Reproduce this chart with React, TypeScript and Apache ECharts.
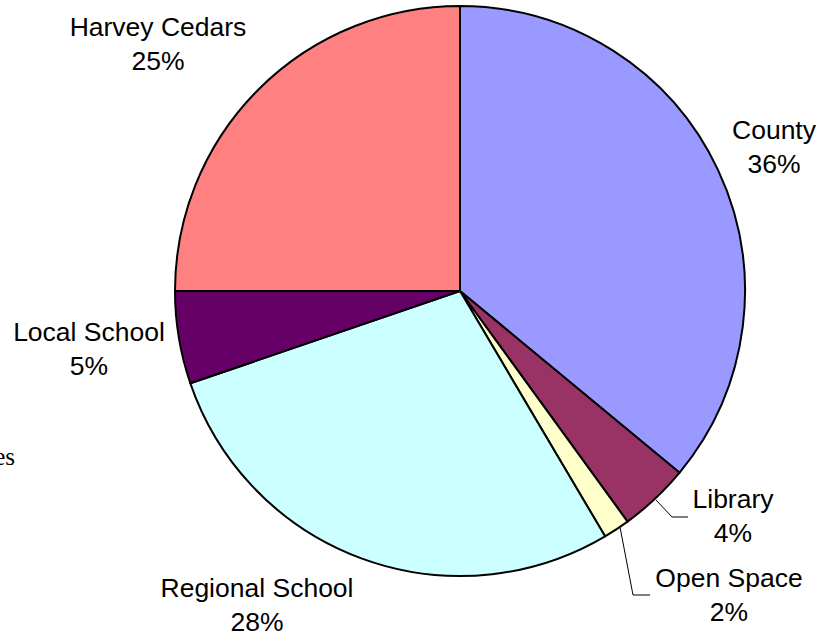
import React, { useEffect, useRef } from "react";
import * as echarts from "echarts";

const categories = ["County", "Library", "Open Space", "Regional School", "Local School", "Harvey Cedars"];
const values = [36.0, 4.0, 1.5, 28.25, 5.25, 25.0];
const colors = ["#9999FF", "#993366", "#FFFFCC", "#CCFFFF", "#660066", "#FF8080"];
const withLeader = [false, true, true, false, false, false];

// label placement (text block centers) and leader line points
const labelCenters: [number, number][] = [
  [774, 147],
  [733, 516],
  [729, 595],
  [257, 605],
  [89, 349],
  [158, 44],
];
const leaderPoints: ([number, number][] | null)[] = [
  null,
  [[656, 500], [672, 517], [688, 517]],
  [[620, 527], [633, 595], [650, 595]],
  null,
  null,
  null,
];

export default function App() {
  const ref = useRef<HTMLDivElement>(null);
  useEffect(() => {
    if (!ref.current) return;
    const chart = echarts.init(ref.current, undefined, { renderer: "svg" });
    chart.setOption({
      animation: false,
      backgroundColor: "#ffffff",
      graphic: [
        {
          type: "text",
          style: {
            text: "es",
            x: 15,
            y: 456,
            textAlign: "right",
            textVerticalAlign: "middle",
            font: '25px "Liberation Serif", "Times New Roman", serif',
            fill: "#000",
          },
        },
      ],
      series: [
        {
          type: "pie",
          center: [460, 291],
          radius: 285,
          startAngle: 90,
          clockwise: true,
          avoidLabelOverlap: false,
          itemStyle: { borderColor: "#000", borderWidth: 2 },
          emphasis: { disabled: true },
          label: {
            show: true,
            position: "outside",
            color: "#000",
            fontSize: 26.5,
            lineHeight: 34,
            fontFamily: '"Liberation Sans", Arial, sans-serif',
            align: "center",
            formatter: (p: any) => `${p.name}\n${Math.round(p.percent)}%`,
          },
          labelLine: { show: false, lineStyle: { color: "#000", width: 1 } },
          labelLayout: (p: any) => {
            const i = p.dataIndex;
            const c = labelCenters[i];
            const res: any = { x: c[0], y: c[1], align: "center", verticalAlign: "middle" };
            if (leaderPoints[i]) res.labelLinePoints = leaderPoints[i];
            return res;
          },
          data: categories.map((name, i) => ({
            name,
            value: values[i],
            itemStyle: { color: colors[i] },
            labelLine: { show: withLeader[i], length: 10, length2: 10 },
          })),
        },
      ],
    });
    return () => chart.dispose();
  }, []);
  return (
    <div
      ref={ref}
      style={{ position: "fixed", left: 0, top: 0, width: 824, height: 635 }}
    />
  );
}
